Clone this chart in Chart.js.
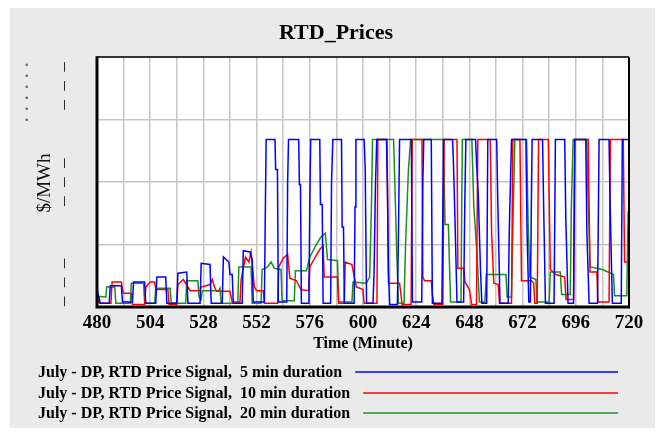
<!DOCTYPE html>
<html><head><meta charset="utf-8">
<script src="https://cdn.jsdelivr.net/npm/chart.js@4.4.0/dist/chart.umd.min.js"></script>
<style>html,body{margin:0;padding:0;background:#fff;}canvas{display:block;}</style>
</head><body>
<canvas id="c" width="665" height="434"></canvas>
<script>
const chartTitle = 'RTD_Prices';
const xTitle = 'Time (Minute)';
const yTitle = '$/MWh';
const xTickLabels = [480, 504, 528, 552, 576, 600, 624, 648, 672, 696, 720];
const yTickLabelValues = [0, 50, 100];
const seriesLabels = [
  'July - DP, RTD Price Signal,  5 min duration',
  'July - DP, RTD Price Signal,  10 min duration',
  'July - DP, RTD Price Signal,  20 min duration'
];
const seriesColors = ['#0000ff', '#ff0000', '#1a8f1a'];

// [minute, $/MWh]
const blue5 = [[480,7],[481.5,1.5],[485.5,1.5],[486,8.5],[491,8.5],[491.5,2],[496,2],[496.5,10],[501.5,10],[502,1.5],[506.5,1.5],[507,12],[511,12],[511.5,1.5],[516,1.5],[516.5,13.5],[520.5,14],[521,1.5],[526.5,1.5],[527,17.5],[531,17],[531.5,1.5],[536.5,1.5],[537,20],[539.5,18],[540,13],[541,13],[541.5,1.5],[545.5,1.5],[546,22.5],[549,22],[550,19],[550.5,2],[555.5,2],[556,43],[556.3,67],[560.3,67],[560.6,55],[561.4,55],[561.8,2],[565.6,2],[566,50],[566.4,67],[571,67],[571.3,49],[571.8,49],[572.2,1.5],[575.6,1.5],[576,42],[576.4,67],[580.5,67],[580.8,41],[581.6,41],[582,1.5],[585.4,1.5],[585.8,50],[586.4,67],[590.3,67],[590.6,32],[591.2,32],[591.6,1.5],[596,1.5],[596.4,40],[596.8,67],[600.5,67],[601,55],[601.6,1.5],
[604.5,1.5],[605,14],[605.6,48],[606.2,67],[610.6,67],[611,49],[611.5,14],[612,1],
[615.5,1],[616,30],[616.5,67],[621.8,67],[622.3,2],
[626.5,2],[627,50],[627.4,67],[630.8,67],[631.3,1.5],
[635.6,1.5],[636,38],[636.3,67],[640.4,67],[640.8,58],[641.5,35],[642.4,2],
[645.4,2],[645.9,40],[646.4,67],[650.8,67],[651.2,58],[652,45],[653,15],[653.6,1.5],
[655.8,1.5],[656.3,67],[660.3,67],[660.8,43],[661.8,1.5],
[665.5,1.5],[666,31],[667,67],[673.5,67],[674,30],[674.8,2],[675.5,2],[676,45],[676.3,67],[681,67],[681.5,40],[682.3,1.5],
[686.2,1.5],[686.8,67],[691,67],[691.5,35],[692.5,1.5],
[695,1.5],[695.5,67],[700.5,67],[701,30],[702,1.5],
[705.8,1.5],[706.5,67],[711,67],[711.5,40],[712.5,1.5],
[716.5,1.5],[717,67],[720,67]];

const red10 = [[480,4],[481,1.5],[486.3,1.5],[486.8,10],[491,10],[491.8,5.5],[495.5,5.5],[496,1],[501.5,1],[502,8],[504,10],[506,10],[506.5,7],[512,7],[512.5,1],[516,1],[516.5,9],[519,11],[521,8],[522,6.5],[526.5,6.5],[527,8],[531,9],[532,11],[533,8],[534,6.3],[540,6.3],[541,2],[544.5,2],[545,11],[547,20],[548.5,18],[549.5,22],[551,8],[552,6.5],[555,6.5],[555.5,1.5],[561.5,1.5],[562,16],[564,19.5],[566,21],[567,11.5],[570,10.5],[572,7],[575.5,6.5],[576,16],[578.5,20],[580.5,23],[582,24.5],[582.5,12],[588.5,12],[589,1.5],[591.5,1.5],[592,18],[595,17],[597,8],[600,7],[600.5,1.5],
[606.3,1.5],[606.7,67],[610.8,67],[611.5,9.5],[616.5,9.5],[617,6],[617.6,1],[621.7,1],[622.2,67],[626.6,67],[627,12],[627.8,10.5],[630.8,10.5],[631.3,5],[632,1],[636,1],[636.6,67],[642.4,67],[642.8,15.5],[645.5,15.5],[646,10],[648,7],[649,1],[651.2,1],[651.8,67],[657.4,67],[658,30],[659,9.5],[661,9],[661.6,1.5],[667,1.5],[667.6,67],[670.8,67],[671.5,10.5],[676,10.5],[677,9.5],[677.5,1.5],[678.6,1.5],[679.2,67],[683.6,67],[684.5,15],[687,13],[691,12],[691.6,3],[695,3],[695.6,67],[701.6,67],[702.4,14],[705.5,14],[706,2],[711,2],[711.6,67],[717.4,67],[718,18],[720,18]];

const green20 = [[480,4.3],[484,4],[484.4,8],[488,8],[488.5,1.5],[495,1.5],[495.5,9.5],[501,9.5],[501.5,1.5],[506,1.5],[506.5,7.5],[513,7.5],[513.5,1.5],[520,1.5],[520.5,10.5],[525.5,10.5],[526,4],[527,3],[527.5,6.5],[535,6.5],[535.5,7.5],[536,1.5],[543.5,1.5],[544,16],[549.5,16],[550,1.5],[554,1.5],[554.5,15],[557,16],[558.5,18],[560,15.5],[563,15],[563.5,2.5],[569,2.5],[569.5,14.5],[574.5,14.5],[576,20],[579,25],[581,28],[583,29.5],[584,19],[588.5,18.5],[589,2],[595,2],[595.5,10],[601.5,9.5],[603,12],[603.8,40],[604.3,67],[613.8,67],[614.5,45],[615.2,22],[616,1.5],[618.5,1.5],[619.2,25],[620.5,55],[621.5,67],[636.3,67],[637,33],[638.5,33],[639.5,2],[644.2,2],[644.8,67],[649.1,67],[650,40],[651.5,20],[652.5,2],[655,2],[655.6,13],[664.5,13],[665,4],[667,4],[667.8,40],[668.5,67],[673.8,67],[674.5,33],[675.3,12],[678,11],[678.5,2],[684,2],[684.5,14],[689,14],[689.6,5],[693.5,5],[694,40],[694.8,67],[700.9,67],[701.5,45],[702.5,16],[708,15],[713,13],[713.5,4.5],[719,4.5],[719.6,38],[720,38]];

const seriesData = [blue5, red10, green20];

const SERIF = "'Liberation Serif', 'Times New Roman', serif";

const decoPlugin = {
  id: 'deco',
  beforeDraw(chart) {
    const ctx = chart.ctx, a = chart.chartArea;
    ctx.save();
    ctx.fillStyle = '#ffffff';
    ctx.fillRect(0, 0, chart.width, chart.height);
    ctx.fillStyle = '#eaeaea';
    ctx.fillRect(10, 8, 645, 420);
    ctx.fillStyle = '#ffffff';
    ctx.fillRect(a.left, a.top, a.right - a.left, a.bottom - a.top);
    ctx.restore();
  },
  afterDraw(chart) {
    const ctx = chart.ctx, a = chart.chartArea;
    const ys = chart.scales.y;
    ctx.save();
    // frame
    ctx.strokeStyle = '#000';
    ctx.lineWidth = 1.5;
    ctx.beginPath();
    ctx.moveTo(a.left, a.top); ctx.lineTo(a.right, a.top);
    ctx.stroke();
    ctx.lineWidth = 2;
    ctx.beginPath();
    ctx.moveTo(a.right, a.top); ctx.lineTo(a.right, a.bottom);
    ctx.stroke();
    ctx.lineWidth = 3;
    ctx.beginPath();
    ctx.moveTo(a.left, a.top - 0.75); ctx.lineTo(a.left, a.bottom + 1.5);
    ctx.moveTo(a.left - 1.5, a.bottom); ctx.lineTo(a.right + 1, a.bottom);
    ctx.stroke();

    // title
    ctx.fillStyle = '#000';
    ctx.textBaseline = 'middle';
    ctx.textAlign = 'center';
    ctx.font = 'bold 22px ' + SERIF;
    ctx.fillText(chartTitle, 336, 33);
    // x title
    ctx.font = 'bold 16px ' + SERIF;
    ctx.fillText(xTitle, (a.left + a.right) / 2, 344);

    // y title
    ctx.save();
    ctx.translate(45, 183);
    ctx.rotate(-Math.PI / 2);
    ctx.font = '19px ' + SERIF;
    ctx.fillStyle = '#111';
    ctx.fillText(yTitle, 0, 0);
    ctx.restore();

    // y tick labels (rendered as faint rotated dashes)
    ctx.font = '19px ' + SERIF;
    ctx.fillStyle = '#222';
    yTickLabelValues.forEach((v, i) => {
      const py = ys.getPixelForValue(v);
      ctx.save();
      ctx.translate(64, py);
      ctx.rotate(-Math.PI / 2);
      if (i === 0) { ctx.textAlign = 'left'; ctx.translate(1, 0); }
      else if (i === yTickLabelValues.length - 1) { ctx.textAlign = 'right'; ctx.translate(-5, 0); }
      else ctx.textAlign = 'center';
      ctx.fillText('\u2013  \u2013  \u2013', 0, 0);
      ctx.restore();
    });
    // dotted column
    ctx.save();
    ctx.translate(25, 62);
    ctx.rotate(-Math.PI / 2);
    ctx.textAlign = 'right';
    ctx.font = '22px ' + SERIF;
    ctx.fillStyle = '#666';
    ctx.fillText('. . . . . .', 0, -3);
    ctx.restore();

    // legend
    ctx.font = 'bold 16px ' + SERIF;
    ctx.textAlign = 'left';
    const rows = [373, 394, 414];
    chart.data.datasets.forEach((ds, i) => {
      const y = rows[i];
      ctx.fillStyle = '#000';
      ctx.fillText(ds.label, 38, y);
      const w = ctx.measureText(ds.label).width;
      ctx.strokeStyle = ds.borderColor;
      ctx.lineWidth = 1.5;
      ctx.beginPath();
      ctx.moveTo(38 + w + 13, y - 1);
      ctx.lineTo(618, y - 1);
      ctx.stroke();
    });
    ctx.restore();
  }
};

new Chart(document.getElementById('c'), {
  type: 'line',
  data: {
    datasets: seriesData.map((d, i) => ({
      label: seriesLabels[i],
      data: d.map(p => ({ x: p[0], y: p[1] })),
      borderColor: seriesColors[i],
      borderWidth: 1.5,
      pointRadius: 0,
      tension: 0,
      fill: false
    }))
  },
  options: {
    responsive: false,
    devicePixelRatio: 1,
    animation: false,
    layout: { padding: { left: 97, right: 36, top: 57, bottom: 97 } },
    plugins: { legend: { display: false }, title: { display: false }, tooltip: { enabled: false } },
    scales: {
      x: {
        type: 'linear', min: 480, max: 720,
        ticks: {
          stepSize: 12, autoSkip: false, maxRotation: 0, minRotation: 0, padding: 5,
          color: '#000',
          font: { family: SERIF, size: 19, weight: 'bold' },
          callback: (v) => xTickLabels.includes(v) ? String(v) : ''
        },
        grid: { color: '#c6c6c6', lineWidth: 1.5, drawTicks: false },
        border: { display: false },
        afterFit: (s) => { s.height = 30; }
      },
      y: {
        min: 0, max: 100,
        ticks: { stepSize: 25, display: false },
        grid: { color: '#c6c6c6', lineWidth: 1.5, drawTicks: false },
        border: { display: false },
        afterFit: (s) => { s.width = 0; }
      }
    }
  },
  plugins: [decoPlugin]
});
</script>
</body></html>
